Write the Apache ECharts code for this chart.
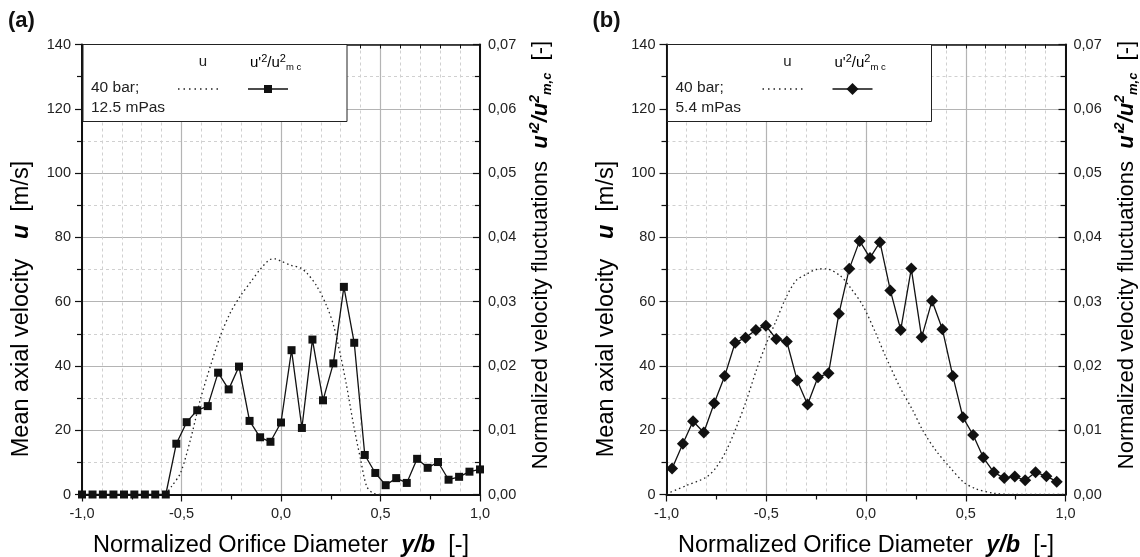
<!DOCTYPE html>
<html>
<head>
<meta charset="utf-8">
<script src="https://cdn.jsdelivr.net/npm/echarts@6/dist/echarts.min.js"></script>
<style>
  html, body { margin: 0; padding: 0; background: #fff; }
  #chart { width: 1140px; height: 557px; }
</style>
</head>
<body>
<div id="chart"></div>
<script>
// panel (a): 40 bar, 12.5 mPas
const xA = [-1.0, -0.947, -0.895, -0.842, -0.789, -0.737, -0.684, -0.632, -0.579, -0.526,
  -0.474, -0.421, -0.368, -0.316, -0.263, -0.211, -0.158, -0.105, -0.053, 0.0,
  0.053, 0.105, 0.158, 0.211, 0.263, 0.316, 0.368, 0.421, 0.474, 0.526,
  0.579, 0.632, 0.684, 0.737, 0.789, 0.842, 0.895, 0.947, 1.0];
const fluctA = [0, 0, 0, 0, 0, 0, 0, 0, 0, 0.0079,
  0.01125, 0.0131, 0.01375, 0.01895, 0.01635, 0.0199, 0.01145, 0.0089, 0.0082, 0.0112,
  0.02245, 0.01035, 0.0241, 0.01465, 0.0204, 0.0323, 0.0236, 0.00615, 0.00335, 0.00145,
  0.00255, 0.0018, 0.00555, 0.00415, 0.00505, 0.0023, 0.00275, 0.00355, 0.0039];
const uxA = [-0.58, -0.55, -0.505, -0.455, -0.405, -0.355, -0.305, -0.255, -0.205, -0.155,
  -0.105, -0.055, -0.03, 0.0, 0.05, 0.097, 0.13, 0.18, 0.23, 0.265,
  0.3, 0.33, 0.366, 0.4, 0.43, 0.46, 0.5];
const uA = [0, 2.5, 6.7, 17.1, 29.6, 39.9, 49.3, 56.5, 61.7, 65.9,
  70, 73.1, 73.3, 72.6, 71.3, 70.5, 68.9, 64.8, 58.6, 52.4,
  43, 33.7, 21.2, 10.9, 2.6, 0.5, 0];

// panel (b): 40 bar, 5.4 mPas
const xB = [-0.972, -0.918, -0.867, -0.813, -0.761, -0.708, -0.656, -0.604, -0.552, -0.502,
  -0.45, -0.397, -0.345, -0.293, -0.241, -0.188, -0.136, -0.084, -0.032, 0.02,
  0.07, 0.122, 0.174, 0.227, 0.279, 0.331, 0.383, 0.435, 0.486, 0.537,
  0.588, 0.641, 0.693, 0.746, 0.798, 0.85, 0.904, 0.956];
const fluctB = [0.00405, 0.0079, 0.0114, 0.00965, 0.0142, 0.01845, 0.0236, 0.0244, 0.0256, 0.02625,
  0.0242, 0.0238, 0.01775, 0.014, 0.01825, 0.01885, 0.0281, 0.0351, 0.03945, 0.0368,
  0.03925, 0.03175, 0.0256, 0.03515, 0.02445, 0.03015, 0.0257, 0.01845, 0.012, 0.00925,
  0.00575, 0.00345, 0.00255, 0.0028, 0.0022, 0.00345, 0.00285, 0.002];
const uxB = [-1.0, -0.9, -0.8, -0.75, -0.7, -0.65, -0.6, -0.55, -0.5, -0.45,
  -0.4, -0.35, -0.3, -0.25, -0.2, -0.13, -0.08, -0.016, 0.05, 0.1,
  0.17, 0.235, 0.285, 0.35, 0.42, 0.49, 0.55, 0.64, 0.74, 1.0];
const uB = [0.2, 2.8, 5.4, 8.5, 13.7, 20.9, 29.2, 38.6, 46.9, 54.1,
  61.4, 66.6, 68.5, 70, 70.2, 68.1, 64.5, 58.8, 50, 42.7,
  33.4, 26.1, 19.9, 13.7, 8.5, 3.8, 1.8, 0.4, 0, 0];

const panelLabels = ['(a)', '(b)'];
const pressure = ['40 bar;', '40 bar;'];
const viscosity = ['12.5 mPas', '5.4 mPas'];

const FONT = '"Liberation Sans", Arial, sans-serif';
const chart = echarts.init(document.getElementById('chart'));

const comma = (v, d) => v.toFixed(d).replace('.', ',');
const zip = (xs, ys) => xs.map((x, i) => [x, ys[i]]);

const panels = [
  { left: 82, width: 398, x: xA, f: fluctA, ux: uxA, u: uA, symbol: 'rect', size: 8 },
  { left: 666.5, width: 399, x: xB, f: fluctB, ux: uxB, u: uB, symbol: 'diamond', size: 12 }
];
const TOP = 44.5, H = 450;

const grid = [], xAxis = [], yAxis = [], series = [], graphic = [];

const txt = (size, extra) => Object.assign({ fontFamily: FONT, fontSize: size, color: '#222' }, extra);
const rich = {
  n: txt(22, { lineHeight: 26 }),
  x: txt(23.5, { lineHeight: 26 }),
  xbi: txt(23.5, { fontWeight: 'bold', fontStyle: 'italic', lineHeight: 26 }),
  bi: txt(22, { fontWeight: 'bold', fontStyle: 'italic', lineHeight: 26 }),
  bs: txt(14, { fontWeight: 'bold', fontStyle: 'italic', verticalAlign: 'top', lineHeight: 26 }),
  bsub: txt(13, { fontWeight: 'bold', fontStyle: 'italic', verticalAlign: 'bottom', lineHeight: 15 }),
  l: txt(15, { lineHeight: 19 }),
  ls: txt(11, { verticalAlign: 'top', lineHeight: 19 }),
  lsub: txt(9.5, { verticalAlign: 'bottom', lineHeight: 8 })
};

panels.forEach((p, i) => {
  grid.push({ left: p.left, top: TOP, width: p.width, height: H });

  // top axis: dashed minor grid every 0.1 and inward ticks
  xAxis.push({
    gridIndex: i, type: 'value', min: -1, max: 1, interval: 0.1, position: 'top',
    axisLine: { show: true, onZero: false, lineStyle: { color: '#111', width: 1.5 } },
    axisTick: { show: true, inside: true, length: 4, lineStyle: { color: '#111' } },
    axisLabel: { show: false },
    splitLine: { show: true, lineStyle: { color: '#d0d0d0', width: 1, type: [3, 3] } }
  });
  // bottom axis
  xAxis.push({
    gridIndex: i, type: 'value', min: -1, max: 1, interval: 0.5, position: 'bottom',
    axisLine: { show: true, onZero: false, lineStyle: { color: '#111', width: 2 } },
    axisTick: { show: true, inside: false, length: 7, lineStyle: { color: '#111', width: 1.2 } },
    minorTick: { show: true, splitNumber: 2, length: 5, lineStyle: { color: '#111', width: 1.2 } },
    axisLabel: { margin: 12, fontSize: 14.5, color: '#222', fontFamily: FONT, formatter: v => comma(v, 1) },
    splitLine: { show: true, lineStyle: { color: '#b4b4b4', width: 1.2 } }
  });
  yAxis.push({
    gridIndex: i, type: 'value', min: 0, max: 140, interval: 20, position: 'left',
    axisLine: { show: true, onZero: false, lineStyle: { color: '#111', width: 2 } },
    axisTick: { show: true, inside: false, length: 7, lineStyle: { color: '#111', width: 1.2 } },
    minorTick: { show: true, splitNumber: 2, length: 5, lineStyle: { color: '#111', width: 1.2 } },
    axisLabel: { margin: 11, fontSize: 14.5, color: '#222', fontFamily: FONT },
    splitLine: { show: true, lineStyle: { color: '#b4b4b4', width: 1.2 } },
    minorSplitLine: { show: true, lineStyle: { color: '#d0d0d0', width: 1, type: [3, 3] } }
  });
  yAxis.push({
    gridIndex: i, type: 'value', min: 0, max: 0.07, interval: 0.01, position: 'right',
    axisLine: { show: true, onZero: false, lineStyle: { color: '#111', width: 2 } },
    axisTick: { show: true, inside: true, length: 7, lineStyle: { color: '#111', width: 1.2 } },
    minorTick: { show: true, splitNumber: 2, length: 5, lineStyle: { color: '#111', width: 1.2 } },
    axisLabel: { margin: 8, fontSize: 14.5, color: '#222', fontFamily: FONT, formatter: v => comma(v, 2) },
    splitLine: { show: false }
  });

  series.push({
    type: 'line', xAxisIndex: 2 * i + 1, yAxisIndex: 2 * i,
    data: zip(p.ux, p.u), showSymbol: false, smooth: 0.3, z: 3,
    lineStyle: { color: '#222', width: 1.3, type: [1.5, 3] }
  });
  series.push({
    type: 'line', xAxisIndex: 2 * i + 1, yAxisIndex: 2 * i + 1,
    data: zip(p.x, p.f), symbol: p.symbol, symbolSize: p.size, clip: false, z: 4,
    itemStyle: { color: '#111' },
    lineStyle: { color: '#111', width: 1.3 }
  });

  const L = p.left, R = p.left + p.width;
  graphic.push(
    { type: 'text', left: L - 74, top: 10, style: { text: panelLabels[i], fontFamily: FONT, fontSize: 22, fontWeight: 'bold', fill: '#111' } },
    // legend box
    { type: 'rect', z: 1, shape: { x: L + 1, y: TOP, width: 264, height: 77 }, style: { fill: '#fff', stroke: '#222', lineWidth: 1 } },
    { type: 'text', z: 2, x: L + 121, y: 62, style: { text: 'u', fontFamily: FONT, fontSize: 15, fill: '#222', align: 'center', verticalAlign: 'middle' } },
    { type: 'text', z: 2, x: L + 168, y: 63, style: { text: "{l|u'}{ls|2}{l|/u}{ls|2}{lsub|m c}", rich: rich, align: 'left', verticalAlign: 'middle' } },
    { type: 'text', z: 2, x: L + 9, y: 88, style: { text: pressure[i], fontFamily: FONT, fontSize: 15.5, fill: '#222', verticalAlign: 'middle' } },
    { type: 'text', z: 2, x: L + 9, y: 108, style: { text: viscosity[i], fontFamily: FONT, fontSize: 15.5, fill: '#222', verticalAlign: 'middle' } },
    { type: 'line', z: 2, shape: { x1: L + 96, y1: 89, x2: L + 136, y2: 89 }, style: { stroke: '#222', lineWidth: 1.3, lineDash: [1.5, 4] } },
    { type: 'line', z: 2, shape: { x1: L + 166, y1: 89, x2: L + 206, y2: 89 }, style: { stroke: '#111', lineWidth: 1.3 } },
    p.symbol === 'rect'
      ? { type: 'rect', z: 3, shape: { x: L + 182, y: 85, width: 8, height: 8 }, style: { fill: '#111' } }
      : { type: 'polygon', z: 3, shape: { points: [[L + 186, 83], [L + 192, 89], [L + 186, 95], [L + 180, 89]] }, style: { fill: '#111' } },
    // axis titles
    { type: 'text', x: L - 60, y: 309, rotation: Math.PI / 2,
      style: { text: '{x|Mean axial velocity   }{xbi|u}{x|  [m/s]}', rich: rich, align: 'center', verticalAlign: 'middle' } },
    { type: 'text', x: R + 61, y: 255, rotation: Math.PI / 2,
      style: { text: "{n|Normalized velocity fluctuations  }{bi|u'}{bs|2}{bi|/u}{bs|2}{bsub|m,c}{n|  [-]}", rich: rich, align: 'center', verticalAlign: 'middle' } },
    { type: 'text', x: L + p.width / 2, y: 546,
      style: { text: '{x|Normalized Orifice Diameter  }{xbi|y/b}{x|  [-]}', rich: rich, align: 'center', verticalAlign: 'middle' } }
  );
});

chart.setOption({
  animation: false,
  backgroundColor: '#fff',
  grid: grid,
  xAxis: xAxis,
  yAxis: yAxis,
  series: series,
  graphic: graphic
});
</script>
</body>
</html>
